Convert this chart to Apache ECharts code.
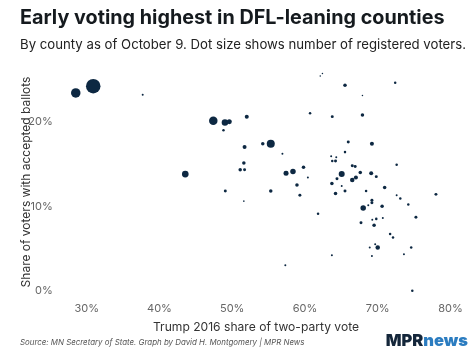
<!DOCTYPE html>
<html>
<head>
<meta charset="utf-8">
<script src="https://cdn.jsdelivr.net/npm/echarts@6/dist/echarts.min.js"></script>
<style>
html,body{margin:0;padding:0;background:#fff;}
#chart{width:474px;height:355px;}
</style>
</head>
<body>
<div id="chart"></div>
<script>
// Trump 2016 share of two-party vote (%)
var trumpShare = [
  28.5, 30.9, 37.7, 47.4, 49.0, 49.6, 52.0, 48.8, 43.55, 62.1,
  62.4, 60.7, 55.3, 54.2, 51.7, 56.9, 51.6, 51.1, 51.7, 59.8,
  65.5, 72.4, 67.9, 67.9, 63.75, 65.95, 69.2, 65.5, 63.6, 64.3,
  63.75, 64.2, 66.5, 66.9, 72.6, 57.4, 58.35, 60.4, 58.9, 49.05,
  55.3, 59.3, 51.6, 61.8, 65.05, 64.4, 67.6, 69.1, 69.8, 67.0,
  66.5, 63.7, 65.05, 70.95, 65.5, 64.2, 68.4, 72.6, 73.1, 78.0,
  69.2, 69.2, 70.6, 68.7, 74.2, 68.0, 75.25, 69.25, 69.8, 70.7,
  67.7, 69.5, 71.7, 72.1, 70.0, 69.65, 68.9, 74.6, 69.2, 73.6,
  63.7, 57.3, 74.75
];
// Share of voters with accepted ballots (%)
var ballotShare = [
  23.4, 24.2, 23.2, 20.1, 19.9, 20.0, 20.6, 19.0, 13.8, 25.4,
  25.7, 21.0, 17.4, 17.4, 17.0, 16.2, 15.1, 14.3, 14.3, 14.6,
  24.3, 24.6, 23.1, 20.8, 20.6, 17.6, 17.4, 16.4, 15.9, 15.8,
  15.35, 15.35, 14.8, 14.7, 14.9, 13.9, 14.1, 13.4, 12.5, 11.8,
  11.8, 11.3, 10.6, 9.1, 13.8, 13.25, 14.0, 13.9, 13.5, 13.4,
  13.1, 12.7, 12.4, 12.2, 11.8, 11.5, 11.8, 11.3, 10.9, 11.4,
  10.7, 10.4, 10.0, 10.1, 10.2, 9.8, 8.7, 8.4, 8.5, 8.6,
  8.05, 7.75, 6.7, 6.3, 5.1, 5.5, 5.1, 5.1, 4.1, 4.3,
  4.2, 3.0, 0.0
];
// Registered voters (thousands)
var votersK = [
  343, 800, 15, 275, 160, 95, 61, 24, 170, 9,
  9, 24, 244, 47, 61, 15, 47, 47, 34, 47,
  47, 24, 9, 47, 34, 34, 61, 24, 15, 15,
  24, 34, 34, 34, 24, 95, 115, 15, 47, 34,
  47, 34, 9, 24, 137, 34, 47, 61, 34, 61,
  77, 47, 15, 47, 34, 47, 24, 15, 24, 34,
  34, 34, 47, 15, 24, 115, 34, 15, 24, 15,
  34, 47, 24, 24, 77, 15, 15, 24, 15, 15,
  15, 15, 24
];
var xTicks = [30, 40, 50, 60, 70, 80];
var yTicks = [0, 10, 20];

var points = trumpShare.map(function (x, i) { return [x, ballotShare[i], votersK[i]]; });

var chart = echarts.init(document.getElementById('chart'), null, {renderer: 'canvas'});
var FONT = 'Inter, "Noto Sans", sans-serif';
chart.setOption({
  animation: false,
  backgroundColor: '#ffffff',
  grid: {left: 50.3, right: 23.5, top: 37.2, bottom: 64.3, containLabel: false},
  xAxis: {
    type: 'value', min: 25, max: 80, interval: 5,
    axisLine: {show: false}, axisTick: {show: false}, splitLine: {show: false},
    axisLabel: {
      margin: 12, color: '#666', fontSize: 11, fontFamily: FONT,
      formatter: function (v) { return xTicks.indexOf(v) >= 0 ? v + '%' : ''; }
    }
  },
  yAxis: {
    type: 'value', min: 0, max: 30, interval: 10,
    axisLine: {show: false}, axisTick: {show: false}, splitLine: {show: false},
    axisLabel: {
      margin: -2.5, color: '#666', fontSize: 11, fontFamily: FONT,
      formatter: function (v) { return yTicks.indexOf(v) >= 0 ? v + '%' : ''; }
    }
  },
  series: [{
    type: 'scatter',
    clip: false,
    data: points,
    symbolSize: function (d) { return 14.5 * Math.sqrt(d[2] / 800); },
    itemStyle: {color: '#0d2842', opacity: 1}
  }],
  graphic: [
    {type: 'text', left: 20, top: 8.5, style: {text: 'Early voting highest in DFL-leaning counties', font: 'bold 19.8px ' + FONT, fill: '#151a1e'}},
    {type: 'text', left: 20, top: 39, style: {text: 'By county as of October 9. Dot size shows number of registered voters.', font: '13.2px ' + FONT, fill: '#222'}},
    {type: 'text', x: 26, y: 182, rotation: Math.PI / 2, style: {text: 'Share of voters with accepted ballots', font: '12px ' + FONT, fill: '#333', textAlign: 'center', textVerticalAlign: 'middle'}},
    {type: 'text', x: 256, y: 327, style: {text: 'Trump 2016 share of two-party vote', font: '12.1px ' + FONT, fill: '#333', textAlign: 'center', textVerticalAlign: 'middle'}},
    {type: 'text', x: 20, y: 343, style: {text: 'Source: MN Secretary of State. Graph by David H. Montgomery | MPR News', font: 'italic 7.9px ' + FONT, fill: '#555', textVerticalAlign: 'middle'}},
    {type: 'text', x: 468, y: 350, style: {
      text: '{a|MPR}{b|news}', textAlign: 'right', textVerticalAlign: 'bottom',
      rich: {
        a: {font: '900 16.5px ' + FONT, fill: '#14263a'},
        b: {font: '900 16.5px ' + FONT, fill: '#2b7cc0'}
      }
    }}
  ]
});
</script>
</body>
</html>
